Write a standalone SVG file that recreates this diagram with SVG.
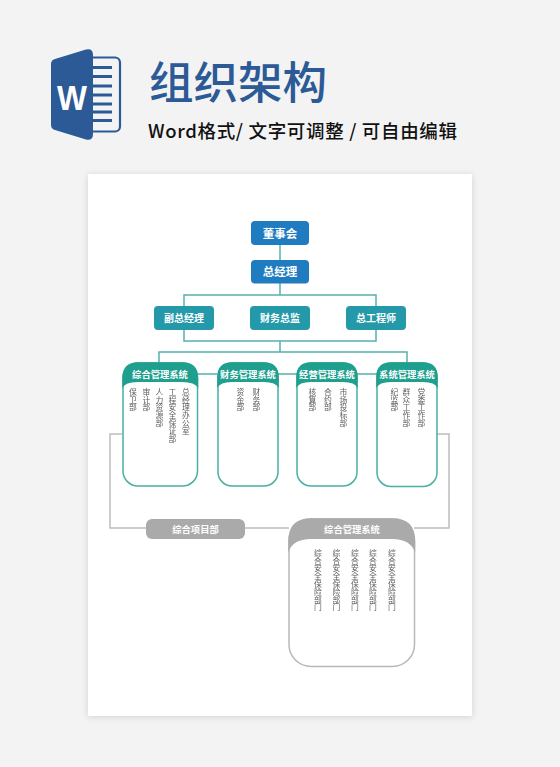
<svg xmlns="http://www.w3.org/2000/svg" width="560" height="767" viewBox="0 0 560 767">
<defs>
<style>
text{font-family:"Noto Sans CJK SC","Noto Sans",sans-serif}
.t{text-anchor:middle;fill:#fff;font-weight:700}
.b{fill:#1f7cc0}.s{fill:#2499aa}
.v{writing-mode:vertical-rl;font-size:7.8px;fill:#5a5a5a;opacity:.98}
.h{font-size:9.300px}
.card{fill:#fff;stroke:#45b0a4;stroke-width:1.500}
.gc{fill:#fff;stroke:#b8b8b8;stroke-width:1.500}
.teal{fill:#1f9f8e}
.cn{fill:none;stroke:#52b3ad;stroke-width:1.500}
.gl{fill:none;stroke:#bdbdbd;stroke-width:1.500}
</style>
<filter id="sh" x="-5%" y="-5%" width="110%" height="110%"><feDropShadow dx="0" dy="1" stdDeviation="3" flood-color="#000" flood-opacity="0.14"/></filter>
</defs>
<rect width="560" height="767" fill="#f3f3f3"/>
<g id="header">
<g id="word-icon">
<rect x="84" y="57.500" width="36" height="74" rx="5" fill="#f3f3f3" stroke="#2c5a97" stroke-width="2.200"/>
<path d="M92 67.500h20M92 76.500h20M92 86h20M92 95h20M92 104h20M92 112h20M92 120.500h20" stroke="#2c5a97" stroke-width="3.200"/>
<path d="M51 64Q51 60 55 59L86 49.500Q93 48 93 55V134Q93 141 86 139.500L55 130Q51 129 51 125Z" fill="#2c5a97"/>
<text x="72" y="110" text-anchor="middle" font-size="36" font-weight="700" fill="#fff" transform="translate(72 0) scale(.88 1) translate(-72 0)" style="font-family:'Liberation Sans',sans-serif">W</text>
</g>
<text x="149" y="99" font-size="44.500" font-weight="500" fill="#2c5a97">组织架构</text>
<text x="148" y="138" font-size="18.500" font-weight="500" fill="#111" textLength="309">Word格式/ 文字可调整 / 可自由编辑</text>
</g>
<rect id="page" x="88" y="174" width="384" height="542" fill="#fff" filter="url(#sh)"/>
<g id="connectors">
<path class="cn" d="M280 245V260M280 283V295M184 306V295H376V306M184 330V341H376V330M280 341V352M159 363V352H407V363M198 374H217M278 374H297M357 374H377"/>
<path class="gl" d="M122 434H110V528H146M245 528H289M437 434H449V528H414"/>
</g>
<g id="n-dongshihui"><rect class="b" x="251" y="221" width="58" height="24" rx="4"/><text class="t" x="280" y="237.500" font-size="11.500">董事会</text></g>
<g id="n-zongjingli"><rect class="b" x="251" y="260" width="58" height="23.500" rx="4"/><text class="t" x="280" y="276" font-size="11.500">总经理</text></g>
<g id="n-fuzong"><rect class="s" x="154" y="306" width="60" height="24" rx="4"/><text class="t" x="184" y="322" font-size="10">副总经理</text></g>
<g id="n-caiwuzongjian"><rect class="s" x="250" y="306" width="60" height="24" rx="4"/><text class="t" x="280" y="322" font-size="10">财务总监</text></g>
<g id="n-zonggong"><rect class="s" x="346" y="306" width="60" height="24" rx="4"/><text class="t" x="376" y="322" font-size="10">总工程师</text></g>
<g id="n-zonghe">
<rect class="card" x="123" y="363" width="74.500" height="123" rx="15"/>
<path class="teal" d="M122.300 388V378Q122.300 362.300 138 362.300H182.500Q198.200 362.300 198.200 378V388Q195 382 182 382H138Q125 382 122.300 388Z"/>
<text class="t h" x="160" y="377.500">综合管理系统</text>
<text class="v" x="133" y="388">保卫部</text><text class="v" x="146.500" y="388">审计部</text><text class="v" x="159.500" y="388">人力资源部</text><text class="v" x="172.500" y="388">工程安全保证部</text><text class="v" x="186" y="388">总经理办公室</text>
</g>
<g id="n-caiwu">
<rect class="card" x="218" y="363" width="60" height="123" rx="14"/>
<path class="teal" d="M217.300 388V377Q217.300 362.300 232 362.300H264Q278.700 362.300 278.700 377V388Q276 382 264 382H232Q220 382 217.300 388Z"/>
<text class="t h" x="248" y="377.500">财务管理系统</text>
<text class="v" x="240.500" y="388">资金部</text><text class="v" x="256.500" y="388">财务部</text>
</g>
<g id="n-jingying">
<rect class="card" x="297" y="363" width="60" height="123" rx="14"/>
<path class="teal" d="M296.300 388V377Q296.300 362.300 311 362.300H343Q357.700 362.300 357.700 377V388Q355 382 343 382H311Q299 382 296.300 388Z"/>
<text class="t h" x="327" y="377.500">经营管理系统</text>
<text class="v" x="312.500" y="388">核算部</text><text class="v" x="328" y="388">合约部</text><text class="v" x="343.500" y="388">市场投标部</text>
</g>
<g id="n-xitong">
<rect class="card" x="377" y="363" width="60" height="123.500" rx="14"/>
<path class="teal" d="M376.300 388V377Q376.300 362.300 391 362.300H423Q437.700 362.300 437.700 377V388Q435 382 423 382H391Q379 382 376.300 388Z"/>
<text class="t h" x="407" y="377.500">系统管理系统</text>
<text class="v" x="394.500" y="388">纪监部</text><text class="v" x="406.500" y="388">群众工作部</text><text class="v" x="421.500" y="388">党委工作部</text>
</g>
<g id="n-xiangmu"><rect x="146" y="519" width="99" height="20" rx="6" fill="#aaa"/><text class="t" x="195.500" y="532.500" font-size="9.300">综合项目部</text></g>
<g id="n-zonghe2">
<rect class="gc" x="289" y="519" width="125.500" height="147.500" rx="22"/>
<path d="M288.300 553V541Q288.300 518.300 311 518.300H392.500Q415.200 518.300 415.200 541V553Q411 539 392 539H311Q292 539 288.300 553Z" fill="#aaa"/>
<text class="t h" x="352" y="533">综合管理系统</text>
<text class="v" x="318" y="549">综合安全保险部门</text><text class="v" x="336.500" y="549">综合安全保险部门</text><text class="v" x="355" y="549">综合安全保险部门</text><text class="v" x="373" y="549">综合安全保险部门</text><text class="v" x="392" y="549">综合安全保险部门</text>
</g>
</svg>
